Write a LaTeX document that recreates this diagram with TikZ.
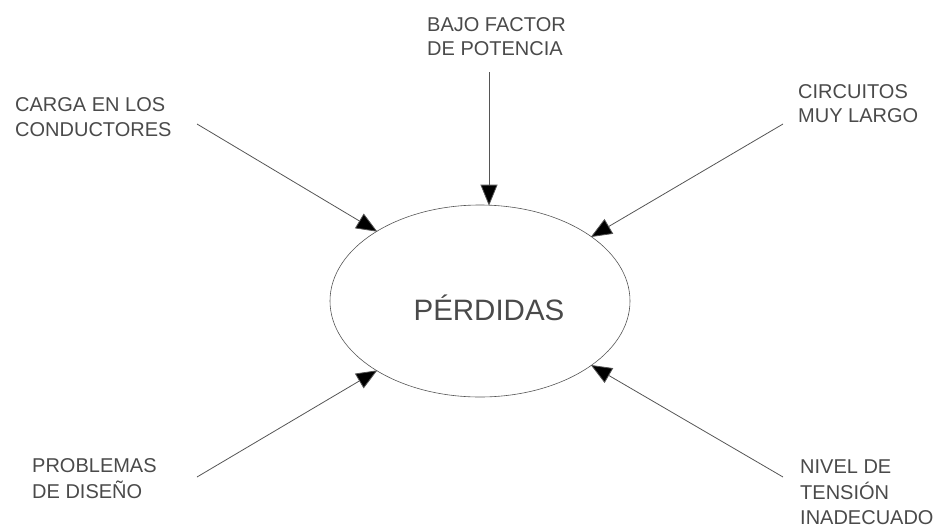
\documentclass[tikz,border=0pt]{standalone}
\usepackage{fontspec}
\setmainfont{Liberation Sans}
\usetikzlibrary{shapes.geometric,arrows.meta}
\definecolor{txt}{HTML}{4A4A4A}
\definecolor{ln}{HTML}{555555}
\tikzset{
  lbl/.style={anchor=north west, inner sep=0pt, align=left, text=txt,
    font=\fontsize{20}{25.5}\selectfont},
  conn/.style={draw=ln, line width=0.8pt,
    -{Triangle[length=21pt,width=17pt,fill=black]}, shorten >=-1pt},
  ellbox/.style={ellipse, draw=ln, line width=0.6pt, minimum width=300pt,
    minimum height=192pt, inner sep=0pt}
}
\begin{document}
\begin{tikzpicture}[x=1pt,y=-1pt]
\useasboundingbox (0,0) rectangle (943,531);
\node[ellbox] (ell) at (480,301) {};
\node[text=txt, inner sep=0pt, font=\fontsize{29.5}{34}\selectfont] (perd) at (489,308) {PÉRDIDAS};

\node[lbl, font=\fontsize{20}{24.5}\selectfont] (bajo) at (427,17) {BAJO FACTOR\\DE POTENCIA};
\node[lbl] (carga) at (15,97) {CARGA EN LOS\\CONDUCTORES};
\node[lbl, font=\fontsize{20}{24.5}\selectfont] (circ) at (798,84) {CIRCUITOS\\MUY LARGO};
\node[lbl, font=\fontsize{20}{26}\selectfont] (prob) at (32,458) {PROBLEMAS\\DE DISEÑO};
\node[lbl, font=\fontsize{20}{25.5}\selectfont] (nivel) at (800,460) {NIVEL DE\\TENSIÓN\\INADECUADO};

\coordinate (sbajo) at (489,72);
\coordinate (scarga) at (197,124);
\coordinate (scirc) at (783,124);
\coordinate (sprob) at (197,477);
\coordinate (snivel) at (783,477);

\draw[conn] (sbajo) -- (ell.north -| sbajo);
\draw[conn] (scarga) -- (ell.146);
\draw[conn] (scirc) -- (ell.30);
\draw[conn] (sprob) -- (ell.214);
\draw[conn] (snivel) -- (ell.330);
\end{tikzpicture}
\end{document}
